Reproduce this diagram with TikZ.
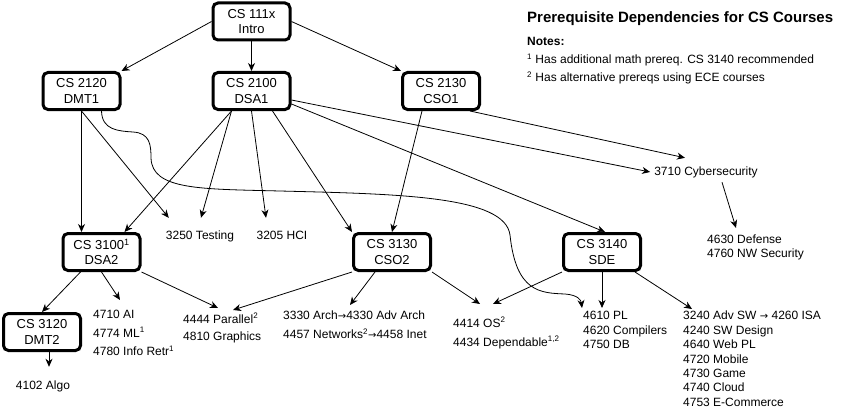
\documentclass[tikz,border=0pt]{standalone}
\usepackage{fontspec}
\setmainfont{Liberation Sans}
\newfontfamily\arrowfont{DejaVu Sans}
\usetikzlibrary{arrows.meta,calc}

\begin{document}
\begin{tikzpicture}[x=1pt,y=-1pt,
  core/.style={draw, line width=3pt, rounded corners=5pt, minimum width=77pt, minimum height=37pt,
    align=center, inner sep=1pt, font=\fontsize{13}{15.5}\selectfont},
  topic/.style={inner sep=0pt, text height=9pt, text depth=3pt, font=\fontsize{12}{14}\selectfont},
  elective/.style={anchor=north west, inner sep=0pt, align=left, execute at begin node=\rule{0pt}{10pt}},
  prereq/.style={-{Stealth[length=8pt,width=7pt,inset=2.5pt]}, line width=0.8pt}]
  \useasboundingbox (0,0) rectangle (852,412);

  % core sequence
  \node[core] (intro) at (251.5,21.5) {CS 111x\\Intro};
  \node[core] (dmt1) at (81.5,91) {CS 2120\\DMT1};
  \node[core] (dsa1) at (251.5,91) {CS 2100\\DSA1};
  \node[core] (cso1) at (441,91) {CS 2130\\CSO1};
  \node[core] (dsa2) at (101.5,252) {CS 3100\textsuperscript{1}\\DSA2};
  \node[core] (cso2) at (392,252) {CS 3130\\CSO2};
  \node[core] (sde) at (602,252) {CS 3140\\SDE};
  \node[core] (dmt2) at (42,332) {CS 3120\\DMT2};

  % electives
  \node[topic] (testing) at (200,236) {3250 Testing};
  \node[topic] (hci) at (282,236) {3205 HCI};
  \node[topic] (cyber) at (706,172) {3710 Cybersecurity};
  \node[topic] (algo) at (43,386) {4102 Algo};
  \node[elective, font=\fontsize{12}{18.5}\selectfont] (ai) at (93,310)
    {4710 AI\\4774 ML\textsuperscript{1}\\4780 Info Retr\textsuperscript{1}};
  \node[elective, font=\fontsize{12}{17}\selectfont] (par) at (183,313)
    {4444 Parallel\textsuperscript{2}\\4810 Graphics};
  \node[elective, font=\fontsize{12}{19}\selectfont] (arch) at (283,311)
    {3330 Arch{\arrowfont\fontsize{10}{12}\selectfont →}4330 Adv Arch\\4457 Networks\textsuperscript{2}{\arrowfont\fontsize{10}{12}\selectfont →}4458 Inet};
  \node[elective, font=\fontsize{12}{19}\selectfont] (os) at (453,317)
    {4414 OS\textsuperscript{2}\\4434 Dependable\textsuperscript{1,2}};
  \node[elective, font=\fontsize{12}{14.5}\selectfont] (pl) at (583,311)
    {4610 PL\\4620 Compilers\\4750 DB};
  \node[elective, font=\fontsize{12}{14.4}\selectfont] (adv) at (683,311)
    {3240 Adv SW {\arrowfont\fontsize{10}{12}\selectfont →} 4260 ISA\\4240 SW Design\\4640 Web PL\\4720 Mobile\\4730 Game\\4740 Cloud\\4753 E-Commerce};
  \node[elective, font=\fontsize{12}{13.7}\selectfont] (defense) at (707,235)
    {4630 Defense\\4760 NW Security};

  % title and notes
  \node[anchor=base west, inner sep=0pt, font=\bfseries\fontsize{15}{18}\selectfont] (title) at (527,22.4)
    {Prerequisite Dependencies for CS Courses};
  \node[elective, font=\fontsize{12}{18}\selectfont] (notes) at (527,37.3)
    {\textbf{Notes:}\\\textsuperscript{1} Has additional math prereq. CS 3140 recommended\\\textsuperscript{2} Has alternative prereqs using ECE courses};

  % prerequisites
  \draw[prereq] (intro.west) -- (dmt1.north east);
  \draw[prereq] (intro.south) -- (dsa1.north);
  \draw[prereq] (intro.east) -- (cso1.north west);
  \draw[prereq] (dmt1.south) -- (dmt1.south |- dsa2.north);
  \draw[prereq] (dmt1.south) -- ($(testing.north west)+(3,-12)$);
  \draw[prereq] ($(dmt1.south)+(20,0)$) .. controls (102,130) and (118,131) .. (133,132)
    .. controls (150,133) and (151,145) .. (151,158)
    .. controls (152,190) and (200,189) .. (280,191)
    .. controls (400,194) and (505,196) .. (510,235)
    .. controls (516,292) and (540,293) .. (565,294)
    .. controls (578,295) and (581,300) .. ($(pl.north west)+(-1,-3)$);
  \draw[prereq] ($(dsa1.south)+(-20,0)$) -- ($(dsa2.north)+(23,0)$);
  \draw[prereq] ($(dsa1.south)+(-20,0)$) -- ($(testing.north)+(1,-12)$);
  \draw[prereq] (dsa1.south) -- ($(hci.north)+(-16,-12)$);
  \draw[prereq] ($(dsa1.south)+(21,0)$) -- (cso2.north west);
  \draw[prereq] ($(dsa1.east)+(0,9)$) -- ($(cyber.west)+(-4,0)$);
  \draw[prereq] ($(dsa1.east)+(0,13)$) -- ($(sde.north)+(3,0)$);
  \draw[prereq] ($(cso1.south)+(-19,0)$) -- (cso2.north);
  \draw[prereq] ($(cso1.south)+(29,0)$) -- ($(cyber.north)+(-21,-8)$);
  \draw[prereq] ($(cyber.south)+(16,4)$) -- ($(defense.north west)+(29,-7)$);
  \draw[prereq] ($(dsa2.south)+(-21,0)$) -- (dmt2.north);
  \draw[prereq] (dsa2.south) -- ($(ai.north west)+(27,-10)$);
  \draw[prereq] (dsa2.south east) -- ($(par.north west)+(35,-5)$);
  \draw[prereq] (cso2.south west) -- ($(par.north west)+(50,-3)$);
  \draw[prereq] ($(cso2.south)+(-17,0)$) -- ($(arch.north west)+(67,-6)$);
  \draw[prereq] (cso2.south east) -- ($(os.north west)+(27,-13)$);
  \draw[prereq] (sde.south west) -- ($(os.north west)+(40,-13)$);
  \draw[prereq] (sde.south) -- ($(pl.north west)+(19,-3)$);
  \draw[prereq] ($(sde.south)+(33,0)$) -- ($(adv.north west)+(9,-2)$);
  \draw[prereq] ($(dmt2.south)+(7,0)$) -- ($(algo.north)+(6,-13)$);
\end{tikzpicture}
\end{document}
